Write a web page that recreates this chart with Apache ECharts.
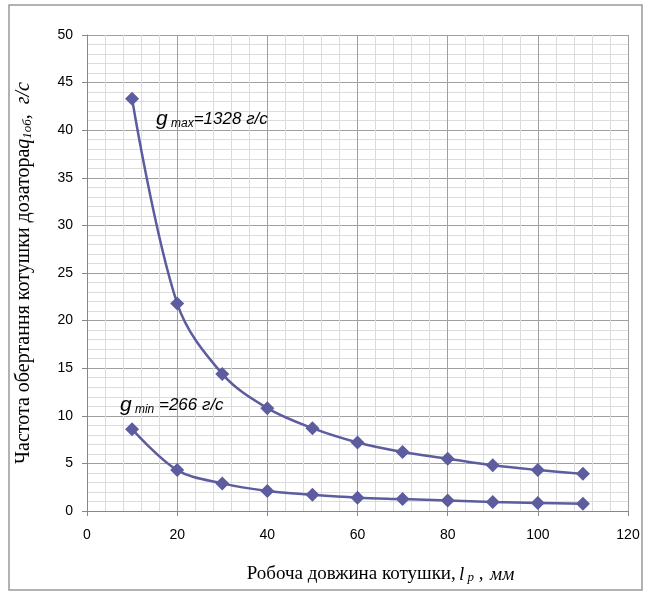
<!DOCTYPE html>
<html>
<head>
<meta charset="utf-8">
<script src="https://cdn.jsdelivr.net/npm/echarts@6/dist/echarts.min.js"></script>
<style>
  html, body { margin: 0; padding: 0; background: #fff; }
  #chart { width: 648px; height: 595px; }
</style>
</head>
<body>
<div id="chart"></div>
<script>
// довжина котушки, мм
const lengths = [10, 20, 30, 40, 50, 60, 70, 80, 90, 100, 110]
// g max = 1328 г/с
const qMax = [43.3, 21.8, 14.4, 10.8, 8.7, 7.2, 6.2, 5.5, 4.8, 4.3, 3.9]
// g min = 266 г/с
const qMin = [8.6, 4.3, 2.9, 2.1, 1.7, 1.4, 1.25, 1.1, 0.95, 0.85, 0.75]

const lineColor = '#5c5c9e'

const chart = echarts.init(document.getElementById('chart'))

const makeSeries = (name, values, note) => ({
  name: name,
  type: 'line',
  smooth: 0.35,
  symbol: 'diamond',
  symbolSize: 14,
  itemStyle: { color: lineColor },
  lineStyle: { color: lineColor, width: 2.5 },
  data: lengths.map((l, i) => [l, values[i]]),
  markPoint: {
    symbol: 'circle',
    symbolSize: 0,
    silent: true,
    data: [{
      coord: note.coord,
      label: {
        show: true,
        position: 'right',
        distance: 0,
        formatter: note.text,
        rich: {
          g: { fontFamily: 'Liberation Sans', fontStyle: 'italic', fontSize: 21, color: '#000' },
          s: { fontFamily: 'Liberation Sans', fontStyle: 'italic', fontSize: 12, color: '#000', verticalAlign: 'bottom', padding: [8, 0, 0, 0] },
          v: { fontFamily: 'Liberation Sans', fontStyle: 'italic', fontSize: 17, color: '#000' }
        }
      }
    }]
  }
})

const option = {
  animation: false,
  backgroundColor: '#fff',
  graphic: [{
    type: 'rect',
    shape: { x: 9, y: 5, width: 633, height: 585 },
    style: { fill: 'none', stroke: '#999', lineWidth: 1.5 },
    silent: true
  }],
  grid: { left: 87, right: 20, top: 35, bottom: 84 },
  xAxis: {
    type: 'value',
    min: 0,
    max: 120,
    interval: 20,
    name: '{t|Робоча довжина котушки,} {i|l}{s|p}{t| ,}  {i|мм}',
    nameLocation: 'middle',
    nameGap: 54,
    nameTextStyle: {
      padding: [0, 0, 0, 46],
      rich: {
        t: { fontFamily: 'Liberation Serif', fontSize: 19, color: '#000' },
        i: { fontFamily: 'Liberation Serif', fontStyle: 'italic', fontSize: 19, color: '#000' },
        s: { fontFamily: 'Liberation Serif', fontStyle: 'italic', fontSize: 13, color: '#000', padding: [6, 0, 0, 3] }
      }
    },
    axisLine: { show: true, lineStyle: { color: '#888', width: 1 } },
    axisTick: { show: true, inside: false, length: 5, lineStyle: { color: '#888' } },
    axisLabel: { fontFamily: 'Liberation Sans', fontSize: 14, color: '#000', margin: 17 },
    splitLine: { show: true, lineStyle: { color: '#a0a0a0', width: 1 } },
    minorTick: { show: false, splitNumber: 5 },
    minorSplitLine: { show: true, lineStyle: { color: '#dcdcdc', width: 1 } }
  },
  yAxis: {
    type: 'value',
    min: 0,
    max: 50,
    interval: 5,
    name: '{t|Частота обертання котушки дозатора}{i|q}{s|1об}{i|,  г/с}',
    nameLocation: 'middle',
    nameGap: 53,
    nameTextStyle: {
      rich: {
        t: { fontFamily: 'Liberation Serif', fontSize: 20, color: '#000' },
        i: { fontFamily: 'Liberation Serif', fontStyle: 'italic', fontSize: 20, color: '#000' },
        s: { fontFamily: 'Liberation Serif', fontStyle: 'italic', fontSize: 13, color: '#000', padding: [7, 0, 0, 0] }
      }
    },
    axisLine: { show: true, lineStyle: { color: '#888', width: 1 } },
    axisTick: { show: true, inside: false, length: 5, lineStyle: { color: '#888' } },
    axisLabel: { fontFamily: 'Liberation Sans', fontSize: 14, color: '#000', margin: 14 },
    splitLine: { show: true, lineStyle: { color: '#a0a0a0', width: 1 } },
    minorTick: { show: false, splitNumber: 5 },
    minorSplitLine: { show: true, lineStyle: { color: '#dcdcdc', width: 1 } }
  },
  series: [
    makeSeries('gmax', qMax, { coord: [15.3, 41.2], text: '{g|g}{s| max}{v|=1328 г/с}' }),
    makeSeries('gmin', qMin, { coord: [7.3, 11.1], text: '{g|g}{s| min}{v| =266 г/с}' })
  ]
}

chart.setOption(option)
</script>
</body>
</html>
